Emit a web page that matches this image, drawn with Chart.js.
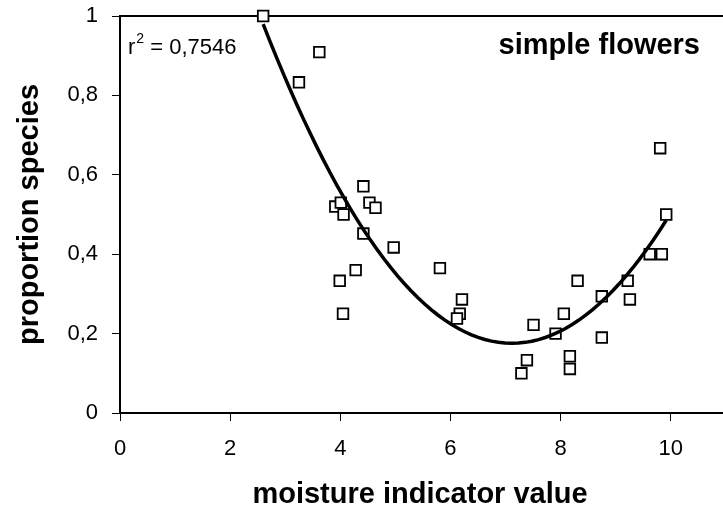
<!DOCTYPE html>
<html>
<head>
<meta charset="utf-8">
<title>simple flowers</title>
<script src="https://cdn.jsdelivr.net/npm/chart.js@4.4.0/dist/chart.umd.min.js"></script>
<style>
    html, body { margin: 0; padding: 0; background: #fff; overflow: hidden; }
    #wrap { width: 723px; height: 507px; overflow: hidden; }
    canvas { display: block; }
</style>
</head>
<body>
<div id="wrap"><canvas id="chart" width="735" height="507"></canvas></div>
<script>
(function () {
    'use strict';

    // moisture indicator value of each sample (x) and proportion of simple-flowered species (y)
    var moisture = [2.60, 3.25, 3.62, 4.42, 3.91, 4.01, 4.06, 4.53, 4.64, 4.42, 4.97, 4.28, 3.99, 4.05,
        5.81, 6.21, 6.17, 6.12, 7.51, 7.91, 8.06, 7.39, 7.29, 8.17, 8.17, 8.31,
        9.81, 9.92, 9.62, 9.84, 9.22, 9.26, 8.75, 8.75];
    var proportion = [1.0, 0.833, 0.909, 0.571, 0.52, 0.53, 0.5, 0.53, 0.517, 0.452, 0.417, 0.36, 0.333, 0.25,
        0.365, 0.286, 0.25, 0.238, 0.222, 0.2, 0.25, 0.133, 0.1, 0.143, 0.111, 0.333,
        0.667, 0.5, 0.4, 0.4, 0.333, 0.286, 0.294, 0.19];
    var xTicks = [0, 2, 4, 6, 8, 10];
    var yTicks = [0, 0.2, 0.4, 0.6, 0.8, 1];
    var r2Text = '0,7546';
    var panelTitle = 'simple flowers';
    var xTitle = 'moisture indicator value';
    var yTitle = 'proportion species';

    var FONT = '"Liberation Sans", Arial, sans-serif';

    // second order polynomial trendline (least squares), like the spreadsheet did
    function quadFit(xs, ys) {
        var s = [0, 0, 0, 0, 0], t = [0, 0, 0];
        for (var i = 0; i < xs.length; i++) {
            var p = 1;
            for (var k = 0; k < 5; k++) {
                s[k] += p;
                if (k < 3) t[k] += ys[i] * p;
                p *= xs[i];
            }
        }
        var m = [[s[0], s[1], s[2], t[0]], [s[1], s[2], s[3], t[1]], [s[2], s[3], s[4], t[2]]];
        for (var c = 0; c < 3; c++) {
            for (var r = c + 1; r < 3; r++) {
                var f = m[r][c] / m[c][c];
                for (var j = c; j < 4; j++) m[r][j] -= f * m[c][j];
            }
        }
        var coef = [0, 0, 0];
        for (var r2 = 2; r2 >= 0; r2--) {
            var v = m[r2][3];
            for (var j2 = r2 + 1; j2 < 3; j2++) v -= m[r2][j2] * coef[j2];
            coef[r2] = v / m[r2][r2];
        }
        return coef;
    }

    var coef = quadFit(moisture, proportion);
    var xMin = Math.min.apply(null, moisture);
    var xMax = Math.max.apply(null, moisture);
    var trend = [];
    var steps = 60;
    for (var i = 0; i <= steps; i++) {
        var x = xMin + (xMax - xMin) * i / steps;
        trend.push({ x: x, y: coef[0] + coef[1] * x + coef[2] * x * x });
    }

    var points = moisture.map(function (x, i) { return { x: x, y: proportion[i] }; });

    function comma(v) { return String(v).replace('.', ','); }

    var annotations = {
        id: 'annotations',
        beforeDatasetsDraw: function (chart) {
            var a = chart.chartArea, ctx = chart.ctx;
            ctx.save();
            ctx.strokeStyle = '#000';
            ctx.lineWidth = 2;
            ctx.beginPath();
            ctx.moveTo(a.left, a.top);
            ctx.lineTo(a.right, a.top);
            ctx.lineTo(a.right, a.bottom);
            ctx.stroke();
            ctx.restore();
        },
        afterDraw: function (chart) {
            var a = chart.chartArea, ctx = chart.ctx;
            ctx.save();
            ctx.fillStyle = '#000';
            ctx.textBaseline = 'alphabetic';

            // r squared label
            ctx.textAlign = 'left';
            ctx.font = '22px ' + FONT;
            var x = a.left + 8;
            ctx.fillText('r', x, 54);
            x += ctx.measureText('r').width + 1;
            ctx.font = '14px ' + FONT;
            ctx.fillText('2', x, 43);
            x += ctx.measureText('2').width;
            ctx.font = '22px ' + FONT;
            ctx.fillText(' = ' + r2Text, x, 54);

            // panel title
            ctx.font = 'bold 29px ' + FONT;
            ctx.textAlign = 'right';
            ctx.fillText(panelTitle, 700, 54);

            // axis titles
            ctx.textAlign = 'center';
            ctx.fillText(xTitle, 420, 503);
            ctx.translate(38, (a.top + a.bottom) / 2);
            ctx.rotate(-Math.PI / 2);
            ctx.fillText(yTitle, 0, 0);
            ctx.restore();
        }
    };

    new Chart(document.getElementById('chart'), {
        type: 'scatter',
        data: {
            datasets: [{
                type: 'line',
                data: trend,
                borderColor: '#000',
                borderWidth: 3.5,
                pointRadius: 0,
                tension: 0,
                fill: false,
                clip: false
            }, {
                data: points,
                pointStyle: 'rect',
                pointRadius: 7.5,
                pointHoverRadius: 7.5,
                pointBackgroundColor: '#fff',
                pointBorderColor: '#000',
                pointBorderWidth: 1.8,
                clip: false
            }]
        },
        options: {
            responsive: false,
            animation: false,
            layout: { padding: { top: 16, right: 1, left: 0, bottom: 0 } },
            plugins: {
                legend: { display: false },
                tooltip: { enabled: false }
            },
            scales: {
                x: {
                    type: 'linear',
                    min: 0,
                    max: 11,
                    afterBuildTicks: function (s) { s.ticks = xTicks.map(function (v) { return { value: v }; }); },
                    afterFit: function (s) { s.height = 94; },
                    ticks: {
                        color: '#000',
                        font: { size: 22, family: FONT },
                        padding: 15,
                        maxRotation: 0,
                        autoSkip: false,
                        callback: function (v) { return comma(v); }
                    },
                    grid: { drawOnChartArea: false, drawTicks: true, tickLength: 8, color: '#000', lineWidth: 1 },
                    border: { color: '#000', width: 2 }
                },
                y: {
                    min: 0,
                    max: 1,
                    afterBuildTicks: function (s) { s.ticks = yTicks.map(function (v) { return { value: v }; }); },
                    afterFit: function (s) { s.width = 120; s.paddingTop = 0; s.paddingBottom = 0; },
                    ticks: {
                        color: '#000',
                        font: { size: 22, family: FONT },
                        padding: 14,
                        autoSkip: false,
                        callback: function (v) { return comma(v); }
                    },
                    grid: { drawOnChartArea: false, drawTicks: true, tickLength: 8, color: '#000', lineWidth: 1 },
                    border: { color: '#000', width: 2 }
                }
            }
        },
        plugins: [annotations]
    });
})();
</script>
</body>
</html>
